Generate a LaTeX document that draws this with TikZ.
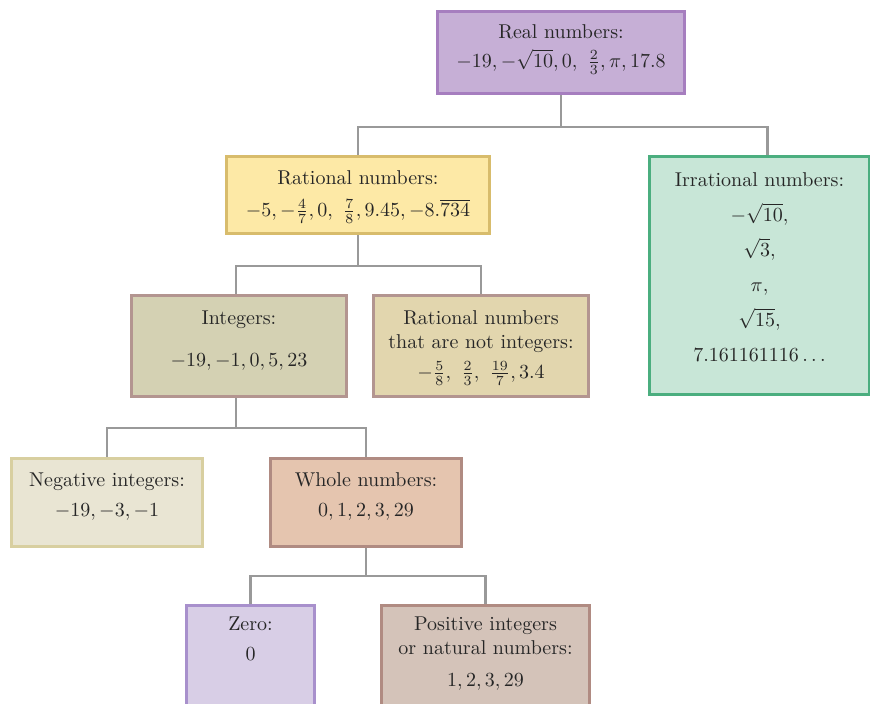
\documentclass[tikz,border=0pt]{standalone}
\usepackage{amssymb}
\usepackage{amsmath}
\usepackage{xcolor}
\usepackage{tikz}
\usetikzlibrary{positioning}
\definecolor{realfill}{HTML}{C6AFD6}
\definecolor{realdraw}{HTML}{A67EBF}
\definecolor{ratfill}{HTML}{FDE9A6}
\definecolor{ratdraw}{HTML}{D8BC6C}
\definecolor{irrfill}{HTML}{C8E6D7}
\definecolor{irrdraw}{HTML}{4BAE7F}
\definecolor{intfill}{HTML}{D4D1B3}
\definecolor{intdraw}{HTML}{B39590}
\definecolor{rnifill}{HTML}{E2D6AE}
\definecolor{negfill}{HTML}{E9E5D3}
\definecolor{negdraw}{HTML}{D8CFA0}
\definecolor{wholefill}{HTML}{E5C5AF}
\definecolor{wholedraw}{HTML}{B08B82}
\definecolor{zerofill}{HTML}{D8CEE6}
\definecolor{zerodraw}{HTML}{A890CC}
\definecolor{posfill}{HTML}{D4C3B9}
\definecolor{linkgray}{HTML}{999999}
\tikzstyle{box} = [rectangle, line width=1.5pt, anchor=north west, inner sep=0pt]
\tikzstyle{txt} = [align=center, inner sep=0pt, text=black!85]
\tikzstyle{link} = [draw=linkgray, line width=1.2pt]

\begin{document}
\begin{tikzpicture}[x=0.5pt, y=-0.5pt]
   \useasboundingbox (0,0) rectangle (870,703);
   % boxes
   \node (real) [box, fill=realfill, draw=realdraw, minimum width=123.5pt, minimum height=41pt] at (436,10) {};
   \node (rational) [box, fill=ratfill, draw=ratdraw, minimum width=131.5pt, minimum height=38.5pt] at (225,155) {};
   \node (irrational) [box, fill=irrfill, draw=irrdraw, minimum width=110pt, minimum height=119pt] at (648,155) {};
   \node (integers) [box, fill=intfill, draw=intdraw, minimum width=107.5pt, minimum height=50.5pt] at (130,294) {};
   \node (notint) [box, fill=rnifill, draw=intdraw, minimum width=107.5pt, minimum height=50.5pt] at (372,294) {};
   \node (negative) [box, fill=negfill, draw=negdraw, minimum width=95.5pt, minimum height=44pt] at (10,457) {};
   \node (whole) [box, fill=wholefill, draw=wholedraw, minimum width=95.5pt, minimum height=44pt] at (269,457) {};
   \node (zero) [box, fill=zerofill, draw=zerodraw, minimum width=64pt, minimum height=52pt] at (185,604) {};
   \node (positive) [box, fill=posfill, draw=wholedraw, minimum width=104pt, minimum height=52pt] at (380,604) {};
   % texts
   \node (realtxt) [txt, below=7pt of real.north] {Real numbers:\\[2.5pt] $-19, -\sqrt{10}, 0,\ \tfrac{2}{3}, \pi, 17.8$};
   \node (rationaltxt) [txt, below=7.5pt of rational.north] {Rational numbers:\\[4pt] $-5, -\tfrac{4}{7}, 0,\ \tfrac{7}{8}, 9.45, -8.\overline{734}$};
   \node (irrationaltxt) [txt, below=8.5pt of irrational.north] {Irrational numbers:\\[5.5pt] $-\sqrt{10},$\\[5.5pt] $\sqrt{3},$\\[5.5pt] $\pi,$\\[5.5pt] $\sqrt{15},$\\[5.5pt] $7.161161116\ldots$};
   \node (integerstxt) [txt, below=8pt of integers.north] {Integers:\\[9pt] $-19, -1, 0, 5, 23$};
   \node (notinttxt) [txt, below=8pt of notint.north] {Rational numbers\\ that are not integers:\\[3pt] $-\tfrac{5}{8},\ \tfrac{2}{3},\ \tfrac{19}{7}, 3.4$};
   \node (negativetxt) [txt, below=7.5pt of negative.north] {Negative integers:\\[3pt] $-19, -3, -1$};
   \node (wholetxt) [txt, below=7.5pt of whole.north] {Whole numbers:\\[3pt] $0, 1, 2, 3, 29$};
   \node (zerotxt) [txt, below=6pt of zero.north] {Zero:\\[3pt] $0$};
   \node (positivetxt) [txt, below=6pt of positive.north] {Positive integers\\ or natural numbers:\\[4pt] $1, 2, 3, 29$};
   % connectors
   \draw [link] (real.south) -- ++(0,32) -| (rational.north);
   \draw [link] (real.south) -- ++(0,32) -| ([xshift=4pt]irrational.north);
   \draw [link] (rational.south) -- ++(0,31) -| ([xshift=-1.5pt]integers.north);
   \draw [link] (rational.south) -- ++(0,31) -| (notint.north);
   \draw [link] (integers.south) ++(-1.5pt,0) -- ++(0,30) -| (negative.north);
   \draw [link] (integers.south) ++(-1.5pt,0) -- ++(0,30) -| (whole.north);
   \draw [link] (whole.south) -- ++(0,28) -| (zero.north);
   \draw [link] (whole.south) -- ++(0,28) -| (positive.north);
\end{tikzpicture}
\end{document}
